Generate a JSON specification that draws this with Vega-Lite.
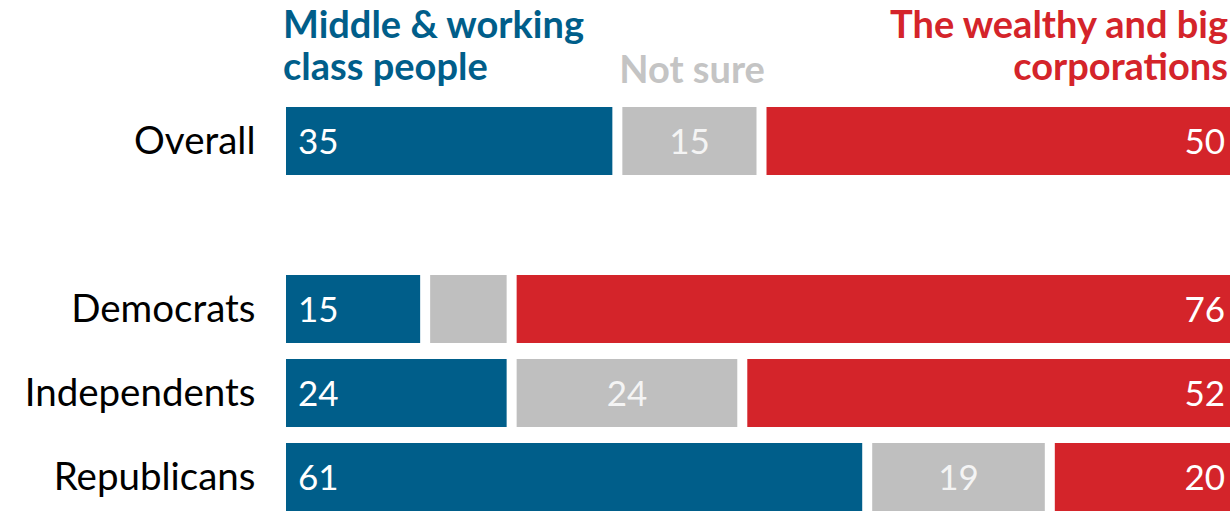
{
  "$schema": "https://vega.github.io/schema/vega-lite/v6.json",
  "width": 949,
  "height": 404,
  "autosize": {"type": "none"},
  "padding": {"left": 281, "top": 107, "right": 0, "bottom": 0},
  "background": "white",
  "config": {"view": {"stroke": null}, "font": "Lato"},
  "datasets": {
    "headers": [
      {"answer": "Middle & working class people", "header": "Middle & working\nclass people"},
      {"answer": "Not sure", "header": "Not sure"},
      {"answer": "The wealthy and big corporations", "header": "The wealthy and big\ncorporations"}
    ]
  },
  "data": {
    "values": [
      {"group": "Overall", "answer": "Middle & working class people", "value": 35},
      {"group": "Overall", "answer": "Not sure", "value": 15},
      {"group": "Overall", "answer": "The wealthy and big corporations", "value": 50},
      {"group": "Democrats", "answer": "Middle & working class people", "value": 15},
      {"group": "Democrats", "answer": "Not sure", "value": 9},
      {"group": "Democrats", "answer": "The wealthy and big corporations", "value": 76},
      {"group": "Independents", "answer": "Middle & working class people", "value": 24},
      {"group": "Independents", "answer": "Not sure", "value": 24},
      {"group": "Independents", "answer": "The wealthy and big corporations", "value": 52},
      {"group": "Republicans", "answer": "Middle & working class people", "value": 61},
      {"group": "Republicans", "answer": "Not sure", "value": 19},
      {"group": "Republicans", "answer": "The wealthy and big corporations", "value": 20}
    ]
  },
  "transform": [
    {"stack": "value", "groupby": ["group"], "sort": [{"field": "answer", "order": "ascending"}], "as": ["start", "end"]},
    {"calculate": "(datum.start + datum.end) / 2", "as": "mid"},
    {"lookup": "answer", "from": {"data": {"name": "headers"}, "key": "answer", "fields": ["header"]}}
  ],
  "encoding": {
    "y": {
      "field": "group",
      "type": "nominal",
      "title": null,
      "scale": {"domain": ["Overall", "gap", "Democrats", "Independents", "Republicans"], "paddingInner": 0.19, "paddingOuter": 0},
      "axis": {"domain": false, "ticks": false, "labelPadding": 26, "labelFontSize": 38.5, "labelFont": "Lato", "labelColor": "#000000", "labelLimit": 0, "labelBaseline": "alphabetic", "labelOffset": 13, "labelExpr": "datum.value == 'gap' ? '' : datum.value"}
    }
  },
  "layer": [
    {
      "mark": {"type": "bar", "xOffset": 5, "x2Offset": -5, "clip": true},
      "encoding": {
        "x": {"field": "start", "type": "quantitative", "scale": {"domain": [0, 98.75], "nice": false, "zero": false}, "axis": null},
        "x2": {"field": "end"},
        "color": {"field": "answer", "type": "nominal", "scale": {"domain": ["Middle & working class people", "Not sure", "The wealthy and big corporations"], "range": ["#005e8a", "#bfbfbf", "#d4242a"]}, "legend": null}
      }
    },
    {
      "transform": [{"filter": "datum.answer == 'Middle & working class people'"}],
      "mark": {"type": "text", "align": "left", "baseline": "alphabetic", "dx": 17, "dy": 13, "fontSize": 35, "color": "white"},
      "encoding": {
        "x": {"field": "start", "type": "quantitative"},
        "text": {"field": "value", "type": "quantitative"}
      }
    },
    {
      "transform": [{"filter": "datum.answer == 'Not sure' && datum.value >= 10"}],
      "mark": {"type": "text", "align": "center", "baseline": "alphabetic", "dy": 13, "fontSize": 35, "color": "#f4f4f4"},
      "encoding": {
        "x": {"field": "mid", "type": "quantitative"},
        "text": {"field": "value", "type": "quantitative"}
      }
    },
    {
      "transform": [{"filter": "datum.answer == 'The wealthy and big corporations'"}],
      "mark": {"type": "text", "align": "right", "baseline": "alphabetic", "dx": -17, "dy": 13, "fontSize": 35, "color": "white"},
      "encoding": {
        "x": {"field": "end", "type": "quantitative"},
        "text": {"field": "value", "type": "quantitative"}
      }
    },
    {
      "transform": [{"filter": "datum.group == 'Overall' && datum.answer == 'Middle & working class people'"}],
      "mark": {"type": "text", "align": "left", "baseline": "alphabetic", "dx": 2, "dy": -69, "fontSize": 38, "fontWeight": "bold", "lineBreak": "\n", "lineHeight": 42},
      "encoding": {
        "x": {"field": "start", "type": "quantitative"},
        "y": {"field": "group", "type": "nominal", "bandPosition": 0},
        "text": {"field": "header"},
        "color": {"field": "answer", "type": "nominal", "legend": null}
      }
    },
    {
      "transform": [{"filter": "datum.group == 'Overall' && datum.answer == 'Not sure'"}],
      "mark": {"type": "text", "align": "left", "baseline": "alphabetic", "dx": 2, "dy": -24, "fontSize": 38, "fontWeight": "bold", "color": "#c4c4c4"},
      "encoding": {
        "x": {"field": "start", "type": "quantitative"},
        "y": {"field": "group", "type": "nominal", "bandPosition": 0},
        "text": {"field": "header"}
      }
    },
    {
      "transform": [{"filter": "datum.group == 'Overall' && datum.answer == 'The wealthy and big corporations'"}],
      "mark": {"type": "text", "align": "right", "baseline": "alphabetic", "dx": -14, "dy": -69, "fontSize": 38, "fontWeight": "bold", "lineBreak": "\n", "lineHeight": 42},
      "encoding": {
        "x": {"field": "end", "type": "quantitative"},
        "y": {"field": "group", "type": "nominal", "bandPosition": 0},
        "text": {"field": "header"},
        "color": {"field": "answer", "type": "nominal", "legend": null}
      }
    }
  ]
}
